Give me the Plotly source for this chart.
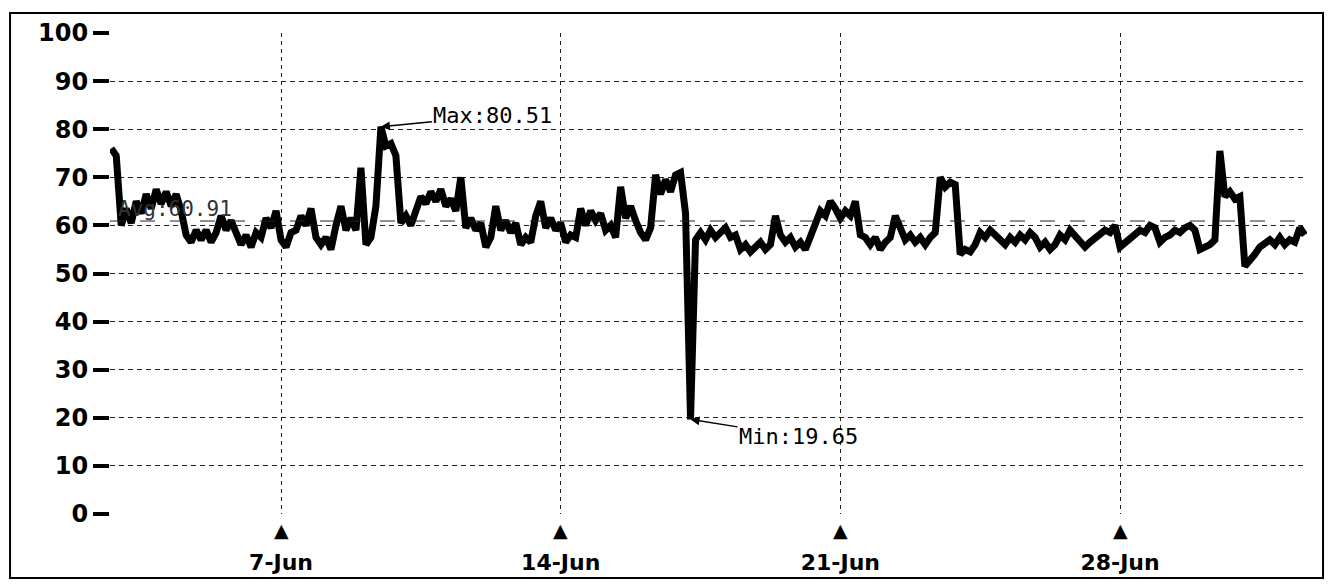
import pandas as pd
import plotly.graph_objects as go

# ---- data (3-hourly samples starting 2015-06-02 18:00) ----
start_time = "2015-06-02 18:00"
step_hours = 3
vals_wk1 = [76, 74.5,
            60, 63.5, 60.5, 65, 62.5, 66.5, 63.5, 67.5,
            64.5, 67, 64, 66.5, 63, 58, 56.5, 59,
            57, 59, 56.5, 58.5, 62, 59, 61, 58.5,
            56, 58, 55.5, 58.5, 57.5, 61.5, 59.5, 63]
vals_wk2 = [57, 55.5, 58.5, 59, 62, 60, 63.5, 57.5,
            56, 57.5, 55, 60, 64, 59, 61.5, 59,
            72, 56, 57.5, 64, 80.51, 76.5, 77, 74.5,
            60.5, 62, 60, 63, 66, 64.5, 67, 65,
            67.5, 64, 65.5, 63, 70, 59.5, 61.5, 59,
            60.5, 55.5, 57.5, 64, 59, 61, 58.5, 60.5,
            56, 57.5, 56.5, 62, 65, 59.5, 61.5, 59]
vals_wk3 = [60.5, 56.5, 58, 57.5, 63.5, 60, 63, 61,
            62.5, 59, 60, 57.5, 68, 61.5, 64, 61,
            58.5, 57, 59.5, 70.5, 66.5, 69.5, 67, 70.5,
            71, 62.5, 19.65, 57, 58.5, 57, 59, 57.5,
            58.5, 59.5, 57.5, 58, 55, 56, 54.5, 55.5,
            56.5, 55, 56, 62, 58, 56.5, 57.5, 55.5,
            56.5, 55, 58, 61, 63, 62, 65, 63.5]
vals_wk4 = [61.5, 63, 62, 65, 58, 57.5, 56, 57.5,
            55, 56.5, 57.5, 62, 59, 57, 58, 56.5,
            57.5, 56, 57.5, 58.5, 70, 68, 69, 68.5,
            54, 55, 54.5, 56, 58.5, 57.5, 59, 58,
            57, 56, 57.5, 56.5, 58, 57, 58.5, 57.5,
            55.5, 56.5, 55, 56, 58, 57, 59, 58,
            56.5, 55.5, 56.5, 57.5, 58, 59, 58.5, 60]
vals_wk5 = [55.5, 56.5, 57.5, 58, 59, 58.5, 60, 59.5,
            56.5, 57.5, 58, 59, 58.5, 59.5, 60, 59,
            55, 55.5, 56, 57, 75.5, 66, 67, 65.5,
            66, 51.5, 52.5, 54, 55.5, 56.5, 57, 56,
            57.5, 56, 57, 56.5, 59.5, 58]

avg_value = 60.91
max_value = 80.51
min_value = 19.65
max_time = "2015-06-09 12:00"
min_time = "2015-06-17 06:00"

tick_dates = ["2015-06-07", "2015-06-14", "2015-06-21", "2015-06-28"]
tick_labels = ["7-Jun", "14-Jun", "21-Jun", "28-Jun"]
y_ticks = [0, 10, 20, 30, 40, 50, 60, 70, 80, 90, 100]
x_range = ["2015-06-02 17:15", "2015-07-02 16:20"]

values = vals_wk1 + vals_wk2 + vals_wk3 + vals_wk4 + vals_wk5
times = pd.date_range(start_time, periods=len(values), freq=f"{step_hours}h")

fig = go.Figure()
fig.add_trace(go.Scatter(
    x=times, y=values, mode="lines", line_shape="linear",
    line=dict(color="black", width=7), showlegend=False, hoverinfo="x+y"))

mono = "DejaVu Sans Mono"

# triangle markers under the date ticks
for d in tick_dates:
    fig.add_annotation(x=d, y=0, yref="y", text="▲", showarrow=False,
                       yanchor="top", yshift=-3,
                       font=dict(family="DejaVu Sans", size=19, color="black"))

fig.add_annotation(x=max_time, y=max_value, text="Max:80.51", showarrow=True,
                   ax=112, ay=-11, arrowhead=2, arrowsize=1.2, arrowwidth=1.5,
                   arrowcolor="black",
                   font=dict(family=mono, size=22, color="black"))
fig.add_annotation(x=min_time, y=min_value, text="Min:19.65", showarrow=True,
                   ax=108, ay=17, arrowhead=2, arrowsize=1.2, arrowwidth=1.5,
                   arrowcolor="black",
                   font=dict(family=mono, size=22, color="black"))
fig.add_annotation(x=times[1], y=avg_value, text="Avg:60.91", showarrow=False,
                   xanchor="left", yanchor="bottom", yshift=-2,
                   font=dict(family=mono, size=21, color="#333333"))

fig.add_shape(type="line", xref="paper", x0=0, x1=1, y0=avg_value, y1=avg_value,
              line=dict(color="#222222", width=1, dash="longdash"))

# outer frame
fig.add_shape(type="rect", xref="paper", yref="paper",
              x0=-0.0835, x1=1.0134, y0=-0.133, y1=1.0416,
              line=dict(color="black", width=2))

fig.update_layout(
    width=1317, height=572,
    margin=dict(l=102, r=18, t=25, b=66),
    paper_bgcolor="white", plot_bgcolor="white",
    font=dict(family="DejaVu Sans", color="black"),
)
fig.update_xaxes(
    range=x_range, tickvals=pd.to_datetime(tick_dates), ticktext=tick_labels,
    showgrid=True, gridcolor="#222222", gridwidth=1, griddash="4px,4px",
    ticks="outside", ticklen=29, tickcolor="rgba(0,0,0,0)",
    tickfont=dict(family="DejaVu Sans", size=22, weight="bold", color="black"),
    showline=False, zeroline=False, automargin=False)
fig.update_yaxes(
    range=[0, 100], tickvals=y_ticks,
    showgrid=True, gridcolor="#222222", gridwidth=1, griddash="5px,4px",
    ticks="outside", ticklen=16, tickwidth=4, tickcolor="black",
    tickfont=dict(family="DejaVu Sans", size=24, weight="bold", color="black"),
    showline=False, zeroline=False, automargin=False)

fig.write_html("out.html")
